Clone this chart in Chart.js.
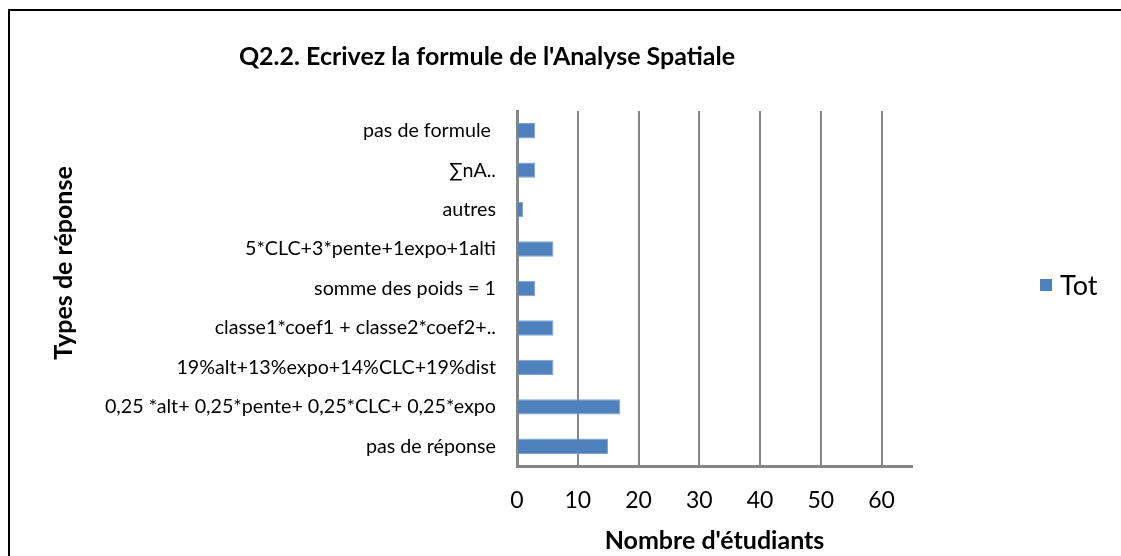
<!DOCTYPE html>
<html>
<head>
<meta charset="utf-8">
<script src="https://cdn.jsdelivr.net/npm/chart.js@4"></script>
<style>
  html, body { margin: 0; padding: 0; background: #fff; }
  #wrap { position: relative; width: 1121px; height: 556px; }
  #frame { position: absolute; left: 8px; top: 9px; right: 0; bottom: -4px;
           border-left: 2px solid #000; border-top: 2px solid #000; }
  canvas { position: absolute; left: 0; top: 0; }
</style>
</head>
<body>
<div id="wrap">
  <div id="frame"></div>
  <canvas id="chart" width="1121" height="556"></canvas>
</div>
<script>
// response types, top to bottom
const categories = [
  "pas de formule ",
  "∑nA..",
  "autres",
  "5*CLC+3*pente+1expo+1alti",
  "somme des poids = 1",
  "classe1*coef1 + classe2*coef2+..",
  "19%alt+13%expo+14%CLC+19%dist",
  "0,25 *alt+ 0,25*pente+ 0,25*CLC+ 0,25*expo",
  "pas de réponse"
];
const totals = [3, 3, 1, 6, 3, 6, 6, 17, 15];
const xTicks = [0, 10, 20, 30, 40, 50, 60];

const chartTitle = "Q2.2. Ecrivez la formule de l'Analyse Spatiale";
const xTitle = "Nombre d'étudiants";
const yTitle = "Types de réponse";
const seriesName = "Tot";

const FONT = "Lato";
const BAR = "#4F81BD";
const GRID = "#868686";

// title, rotated y title and the legend are placed by hand like in the sheet
const extras = {
  id: "extras",
  afterDraw(chart) {
    const { ctx } = chart;
    ctx.save();
    ctx.fillStyle = "#000";
    ctx.textBaseline = "middle";

    ctx.font = "bold 25px " + FONT;
    ctx.textAlign = "center";
    ctx.fillText(chartTitle, 487, 57);

    ctx.save();
    ctx.translate(64, 263);
    ctx.rotate(-Math.PI / 2);
    ctx.fillText(yTitle, 0, 0);
    ctx.restore();

    ctx.fillStyle = BAR;
    ctx.fillRect(1040, 279, 12, 12);
    ctx.fillStyle = "#000";
    ctx.font = "27px " + FONT;
    ctx.textAlign = "left";
    ctx.fillText(seriesName, 1060, 286);
    ctx.restore();
  }
};

document.addEventListener("DOMContentLoaded", () => {
  const ctx = document.getElementById("chart").getContext("2d");
  new Chart(ctx, {
    type: "bar",
    data: {
      labels: categories,
      datasets: [{
        label: seriesName,
        data: totals,
        backgroundColor: BAR,
        borderColor: "#7ea1cd",
        borderWidth: 1,
        barPercentage: 0.39,
        categoryPercentage: 1
      }]
    },
    options: {
      indexAxis: "y",
      responsive: false,
      animation: false,
      layout: { padding: { left: 0, top: 111, right: 209, bottom: 0 } },
      plugins: {
        legend: { display: false },
        title: { display: false },
        tooltip: { enabled: false }
      },
      scales: {
        x: {
          min: 0,
          max: 65,
          afterBuildTicks: (s) => { s.ticks = xTicks.map(v => ({ value: v })); },
          afterFit: (s) => { s.height = 90; },
          grid: { color: GRID, lineWidth: 2, drawTicks: false },
          border: { color: GRID, width: 3 },
          ticks: { color: "#000", padding: 21, font: { family: FONT, size: 23 } },
          title: {
            display: true,
            text: xTitle,
            color: "#000",
            padding: { top: 0, bottom: 0 },
            font: { family: FONT, size: 25, weight: "bold" }
          }
        },
        y: {
          afterFit: (s) => { s.width = 517; },
          grid: { display: false, drawTicks: false },
          border: { color: GRID, width: 3 },
          ticks: { color: "#000", padding: 21, font: { family: FONT, size: 19.7 } }
        }
      }
    },
    plugins: [extras]
  });
});
</script>
</body>
</html>
